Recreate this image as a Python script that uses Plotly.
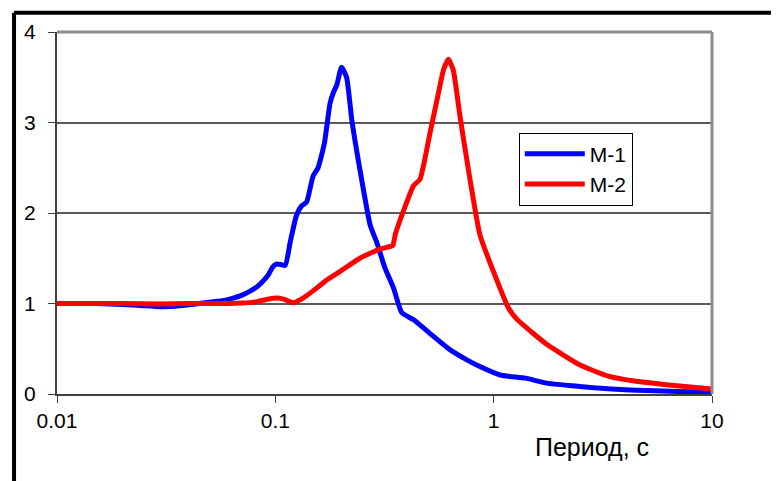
import plotly.graph_objects as go

# Period, s
m1_period = [0.01, 0.015, 0.02, 0.025, 0.03, 0.035, 0.04, 0.045, 0.05, 0.057, 0.064, 0.07,
             0.077, 0.083, 0.088, 0.093, 0.097, 0.101, 0.106, 0.111, 0.117, 0.125, 0.132,
             0.139, 0.149, 0.157, 0.168, 0.178, 0.185, 0.191, 0.201, 0.212, 0.224, 0.244,
             0.272, 0.291, 0.318, 0.348, 0.379, 0.43, 0.51, 0.63, 0.75, 0.87, 1.07, 1.4,
             1.75, 2.3, 3.0, 4.0, 5.0, 7.0, 10.0]
m1_values = [1.0, 1.0, 0.99, 0.975, 0.965, 0.97, 0.985, 1.0, 1.015, 1.03, 1.06, 1.09,
             1.14, 1.19, 1.25, 1.32, 1.40, 1.435, 1.43, 1.42, 1.68, 1.975, 2.08,
             2.12, 2.41, 2.50, 2.78, 3.21, 3.34, 3.41, 3.61, 3.50, 3.03, 2.48,
             1.865, 1.68, 1.39, 1.17, 0.90, 0.82, 0.67, 0.49, 0.38, 0.30, 0.21, 0.175,
             0.12, 0.09, 0.065, 0.048, 0.038, 0.028, 0.02]

m2_period = [0.01, 0.02, 0.03, 0.04, 0.05, 0.06, 0.07, 0.08, 0.091, 0.103, 0.11, 0.121,
             0.134, 0.1546, 0.172, 0.198, 0.22, 0.244, 0.281, 0.30, 0.335, 0.345, 0.355,
             0.40, 0.429, 0.46, 0.511, 0.558, 0.589, 0.62, 0.653, 0.701, 0.766, 0.866,
             0.997, 1.167, 1.276, 1.5, 1.75, 2.49, 3.35, 4.5, 6.0, 10.0]
m2_values = [1.0, 1.0, 0.995, 1.0, 1.0, 1.0, 1.005, 1.015, 1.045, 1.06, 1.045, 1.01,
             1.06, 1.17, 1.26, 1.355, 1.43, 1.50, 1.57, 1.60, 1.63, 1.64, 1.77,
             2.12, 2.30, 2.375, 2.885, 3.32, 3.58, 3.70, 3.58, 3.07, 2.48, 1.755,
             1.355, 0.954, 0.827, 0.68, 0.55, 0.32, 0.197, 0.14, 0.106, 0.055]

x_tick_vals = [0.01, 0.1, 1, 10]
x_tick_text = ["0.01", "0.1", "1", "10"]
y_tick_vals = [0, 1, 2, 3, 4]

FONT = "Arial, Liberation Sans, sans-serif"

fig = go.Figure()
fig.add_trace(go.Scatter(x=m1_period, y=m1_values, mode="lines", name="M-1",
                         line=dict(color="#0000ff", width=5, shape="spline", smoothing=0.5)))
fig.add_trace(go.Scatter(x=m2_period, y=m2_values, mode="lines", name="M-2",
                         line=dict(color="#ff0000", width=5, shape="spline", smoothing=0.5)))

fig.update_layout(
    width=779, height=481,
    margin=dict(l=49, r=75, t=20, b=95),
    paper_bgcolor="white", plot_bgcolor="white",
    font=dict(family=FONT, size=21, color="black"),
    showlegend=True,
    legend=dict(x=0.705, y=0.722, xanchor="left", yanchor="top",
                bordercolor="black", borderwidth=1, bgcolor="white",
                font=dict(family=FONT, size=21, color="black"),
                tracegroupgap=0, itemwidth=60),
    xaxis=dict(type="log", range=[-2, 1], tickvals=x_tick_vals, ticktext=x_tick_text,
               showgrid=False, zeroline=False, showline=True, linecolor="#404040",
               linewidth=2, ticks="outside", ticklen=7, tickcolor="#404040",
               tickfont=dict(family=FONT, size=21, color="black")),
    yaxis=dict(range=[0, 4], tickvals=y_tick_vals, showgrid=True, gridcolor="#5a5a5a",
               gridwidth=1.5, zeroline=False, showline=True, linecolor="#404040",
               linewidth=2, ticks="outside", ticklen=7, tickcolor="#404040",
               ticklabelstandoff=8,
               tickfont=dict(family=FONT, size=21, color="black")),
    shapes=[
        dict(type="line", xref="paper", yref="paper", x0=0, x1=1, y0=1, y1=1,
             line=dict(color="#8c8c8c", width=3)),
        dict(type="line", xref="paper", yref="paper", x0=1, x1=1, y0=0, y1=1,
             line=dict(color="#8c8c8c", width=3)),
        dict(type="line", xref="paper", yref="paper", x0=-0.0656, x1=-0.0656, y0=1.0533, y1=-0.3,
             line=dict(color="black", width=4)),
        dict(type="line", xref="paper", yref="paper", x0=-0.0656, x1=1.2, y0=1.0533, y1=1.0533,
             line=dict(color="black", width=4)),
    ],
    annotations=[
        dict(text="Период, с", xref="paper", yref="paper", x=0.817, y=-0.146,
             xanchor="center", yanchor="middle", showarrow=False,
             font=dict(family=FONT, size=25, color="black")),
    ],
)

fig.write_html("out.html")
